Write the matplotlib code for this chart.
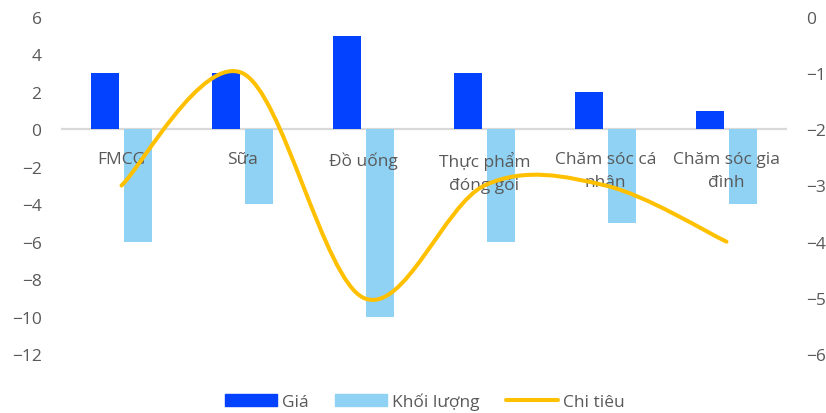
import matplotlib
matplotlib.use("Agg")
import matplotlib.pyplot as plt
from matplotlib.path import Path
from matplotlib.patches import PathPatch
from matplotlib.lines import Line2D
from matplotlib.patches import Patch
import matplotlib.transforms as mtransforms
import numpy as np

plt.rcParams['font.family'] = ['Open Sans', 'DejaVu Sans']

categories = ["FMCG", "Sữa", "Đồ uống", "Thực phẩm\nđóng gói", "Chăm sóc cá\nnhân", "Chăm sóc gia\nđình"]
gia = [3, 3, 5, 3, 2, 1]
khoi_luong = [-6, -4, -10, -6, -5, -4]
chi_tieu = [-3, -1, -5, -3, -3, -4]

left_ticks = [6, 4, 2, 0, -2, -4, -6, -8, -10, -12]
right_ticks = [0, -1, -2, -3, -4, -5, -6]

C_DARK = "#0342FF"
C_LIGHT = "#8FD2F4"
C_LINE = "#FFC000"
C_TEXT = "#595959"

W, H = 826, 414
fig = plt.figure(figsize=(W / 100, H / 100), dpi=100)
ax = fig.add_axes([61 / W, 1 - 355 / H, (787 - 61) / W, (355 - 18) / H])
ax2 = ax.twinx()

x = np.arange(len(categories))
bw = 0.231
off = 0.14
ax.bar(x - off, gia, width=bw, color=C_DARK, zorder=2)
ax.bar(x + off, khoi_luong, width=bw, color=C_LIGHT, zorder=2)
ax.axhline(0, color="#D9D9D9", lw=1.6, zorder=1)

ax.set_xlim(-0.5, len(categories) - 0.5)
ax.set_ylim(-12, 6)
ax.set_yticks(left_ticks)
ax.set_xticks([])
ax2.set_ylim(-6, 0)
ax2.set_yticks(right_ticks)

for a in (ax, ax2):
    for s in a.spines.values():
        s.set_visible(False)
    a.tick_params(axis='y', length=0, pad=14, labelsize=12.5, labelcolor=C_TEXT)
    a.patch.set_visible(False)

# Category labels just below the zero line
offset = mtransforms.ScaledTranslation(0, -22 / 100, fig.dpi_scale_trans)
for i, lab in enumerate(categories):
    ax.text(i, 0, lab, ha='center', va='top', fontsize=12.5, color=C_TEXT,
            linespacing=1.55, transform=ax.transData + offset, zorder=3)

# Smoothed spending line (cubic Bezier through each point)
pts = np.column_stack([x, chi_tieu]).astype(float)
n = len(pts)
verts = [tuple(pts[0])]
codes = [Path.MOVETO]
for i in range(n - 1):
    p_prev = pts[max(i - 1, 0)]
    p0 = pts[i]
    p1 = pts[i + 1]
    p_next = pts[min(i + 2, n - 1)]
    c1 = p0 + (p1 - p_prev) / 6
    c2 = p1 - (p_next - p0) / 6
    verts += [tuple(c1), tuple(c2), tuple(p1)]
    codes += [Path.CURVE4] * 3
path = Path(verts, codes)
ax2.add_patch(PathPatch(path, facecolor='none', edgecolor=C_LINE, lw=2.9,
                        capstyle='round', joinstyle='round', zorder=4))

handles = [Patch(color=C_DARK), Patch(color=C_LIGHT),
           Line2D([0], [0], color=C_LINE, lw=2.9, solid_capstyle='round')]
fig.legend(handles, ["Giá", "Khối lượng", "Chi tiêu"], loc='center',
           bbox_to_anchor=(425 / W, 1 - 402 / H), ncol=3, frameon=False,
           fontsize=12.5, labelcolor=C_TEXT, handlelength=3.0, handleheight=0.7,
           handletextpad=0.3, columnspacing=1.5, borderpad=0.1)

fig.savefig("out.png", dpi=100)
